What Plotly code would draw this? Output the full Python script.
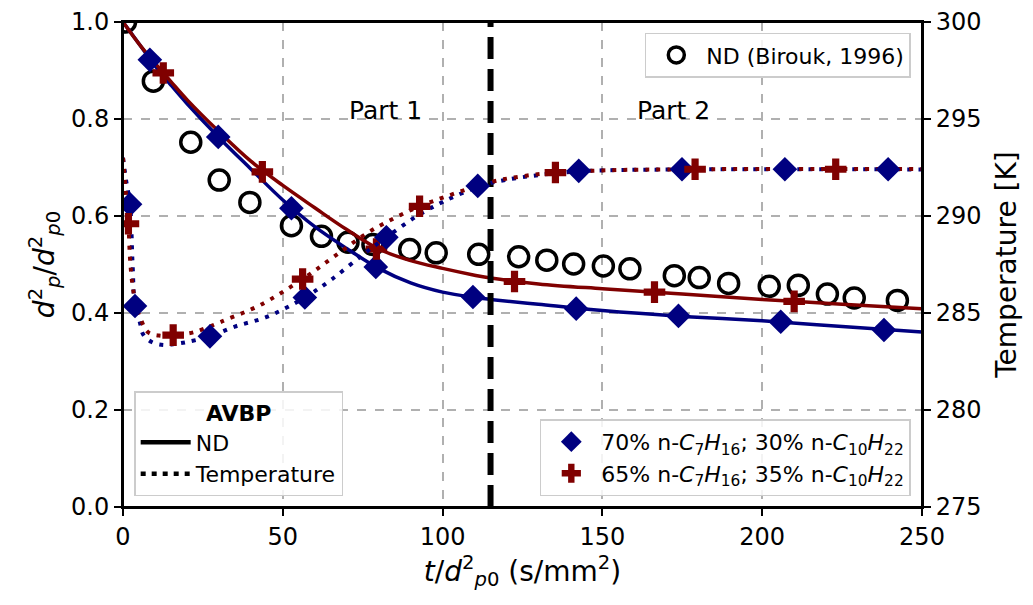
import plotly.graph_objects as go

# ---------------- data ----------------
# Experimental (Birouk, 1996)
birouk_t = [0.8, 9.5, 21.2, 30.1, 39.7, 52.7, 62.1, 70.4, 78.2, 89.7, 98.0, 111.3, 123.8,
            132.6, 141.0, 150.3, 158.6, 172.5, 180.3, 189.5, 202.2, 211.3, 220.4, 228.8, 242.3]
birouk_nd = [1.0, 0.878, 0.752, 0.674, 0.628, 0.580, 0.558, 0.546, 0.541, 0.531, 0.524, 0.521, 0.516,
             0.509, 0.501, 0.497, 0.491, 0.477, 0.473, 0.461, 0.455, 0.457, 0.439, 0.431, 0.426]

# AVBP 70/30 mixture - ND curve
blue_nd_t = [0, 5, 10, 15, 20, 30, 40, 50, 60, 70, 80, 90, 100, 110, 115, 130, 150, 175, 200, 225, 250]
blue_nd = [1.000, 0.955, 0.910, 0.870, 0.832, 0.762, 0.697, 0.633, 0.578, 0.533, 0.492, 0.462, 0.443,
           0.432, 0.428, 0.418, 0.405, 0.393, 0.384, 0.372, 0.361]
blue_nd_mk_t = [8.4, 29.8, 52.7, 79.1, 109.5, 141.8, 173.8, 205.8, 238.1]
blue_nd_mk = [0.922, 0.763, 0.616, 0.495, 0.433, 0.409, 0.394, 0.382, 0.365]

# AVBP 65/35 mixture - ND curve
red_nd_t = [0, 5, 10, 15, 20, 30, 40, 50, 60, 70, 80, 90, 100, 110, 115, 130, 150, 175, 200, 225, 250]
red_nd = [1.000, 0.955, 0.915, 0.877, 0.840, 0.774, 0.713, 0.663, 0.617, 0.572, 0.532, 0.508, 0.492,
          0.478, 0.472, 0.460, 0.450, 0.439, 0.428, 0.418, 0.409]
red_nd_mk_t = [12.6, 43.6, 79.3, 122.5, 166.3, 210.0]
red_nd_mk = [0.895, 0.691, 0.532, 0.465, 0.443, 0.424]

# AVBP 70/30 mixture - temperature [K]
blue_T_t = [0, 1.0, 2.2, 3.0, 3.75, 5.3, 6.3, 9.0, 12.6, 16, 19.9, 27.2, 35, 45, 56.9, 65, 75, 82.4,
            92, 101, 111, 115, 125, 142.6, 175, 250]
blue_T = [293.0, 291.8, 290.6, 287.5, 285.4, 284.5, 283.9, 283.5, 283.35, 283.4, 283.5, 283.8, 284.3,
          284.8, 285.8, 286.7, 288.0, 288.9, 290.0, 290.8, 291.5, 291.7, 292.0, 292.3, 292.4, 292.4]
blue_T_mk_t = [2.2, 3.75, 27.2, 56.9, 82.4, 111.0, 142.6, 174.9, 207.1, 239.4]
blue_T_mk = [290.6, 285.36, 283.8, 285.8, 288.9, 291.55, 292.33, 292.41, 292.41, 292.41]

# AVBP 65/35 mixture - temperature [K]
red_T_t = [0, 1.0, 1.7, 2.2, 3.0, 4.0, 5.5, 7.9, 11.6, 15.7, 22, 29.3, 32.9, 42.8, 56.2, 66, 76.2,
           85, 92.8, 101, 115, 125, 135.3, 150, 179, 250]
red_T = [293.0, 291.0, 289.6, 287.8, 286.4, 285.5, 284.7, 284.0, 283.83, 283.86, 284.0, 284.45, 284.7,
         285.4, 286.75, 287.9, 289.1, 289.9, 290.5, 291.0, 291.75, 292.05, 292.24, 292.35, 292.41, 292.42]
red_T_mk_t = [1.7, 15.7, 56.2, 92.8, 135.3, 179.0, 223.0]
red_T_mk = [289.6, 283.86, 286.75, 290.5, 292.24, 292.41, 292.41]

split_t = 115  # Part 1 / Part 2 boundary
part_labels = ["Part 1", "Part 2"]
part_t = [82, 172.2]
part_y = [0.818, 0.818]

x_ticks = [0, 50, 100, 150, 200, 250]
y_ticks = [0.0, 0.2, 0.4, 0.6, 0.8, 1.0]
T_ticks = [275, 280, 285, 290, 295, 300]

BLUE = "#000080"
RED = "#800000"
FONT = "DejaVu Sans"
dot = "4px,7px"

mix1 = "70% n-<i>C</i><sub>7</sub><i>H</i><sub>16</sub>; 30% n-<i>C</i><sub>10</sub><i>H</i><sub>22</sub>"
mix2 = "65% n-<i>C</i><sub>7</sub><i>H</i><sub>16</sub>; 35% n-<i>C</i><sub>10</sub><i>H</i><sub>22</sub>"

fig = go.Figure()

# Birouk data
fig.add_trace(go.Scatter(x=birouk_t, y=birouk_nd, mode="markers", name="ND (Birouk, 1996)",
                         marker=dict(symbol="circle-open", size=20, color="black", line=dict(width=3.5, color="black")),
                         legend="legend"))

# ND lines
fig.add_trace(go.Scatter(x=blue_nd_t, y=blue_nd, mode="lines", line=dict(color=BLUE, width=3.5, shape="spline"),
                         showlegend=False))
fig.add_trace(go.Scatter(x=red_nd_t, y=red_nd, mode="lines", line=dict(color=RED, width=3.5, shape="spline"),
                         showlegend=False))
fig.add_trace(go.Scatter(x=blue_nd_mk_t, y=blue_nd_mk, mode="markers",
                         marker=dict(symbol="diamond", size=19, color=BLUE), name=mix1, legend="legend3"))
fig.add_trace(go.Scatter(x=red_nd_mk_t, y=red_nd_mk, mode="markers",
                         marker=dict(symbol="cross", size=18, color=RED), name=mix2, legend="legend3"))

# Temperature lines (right axis)
fig.add_trace(go.Scatter(x=blue_T_t, y=blue_T, mode="lines", yaxis="y2",
                         line=dict(color=BLUE, width=4, dash=dot, shape="spline"), showlegend=False))
fig.add_trace(go.Scatter(x=red_T_t, y=red_T, mode="lines", yaxis="y2",
                         line=dict(color=RED, width=4, dash=dot, shape="spline"), showlegend=False))
fig.add_trace(go.Scatter(x=blue_T_mk_t, y=blue_T_mk, mode="markers", yaxis="y2",
                         marker=dict(symbol="diamond", size=19, color=BLUE), showlegend=False))
fig.add_trace(go.Scatter(x=red_T_mk_t, y=red_T_mk, mode="markers", yaxis="y2",
                         marker=dict(symbol="cross", size=18, color=RED), showlegend=False))

# Part separator
fig.add_trace(go.Scatter(x=[split_t, split_t], y=[y_ticks[0], y_ticks[-1]], mode="lines",
                         line=dict(color="black", width=6, dash="22px,10px"), showlegend=False))

# AVBP style legend entries
fig.add_trace(go.Scatter(x=[None], y=[None], mode="lines", name="ND",
                         line=dict(color="black", width=4.5), legend="legend2"))
fig.add_trace(go.Scatter(x=[None], y=[None], mode="lines", name="Temperature",
                         line=dict(color="black", width=4.5, dash="5px,6px"), legend="legend2"))

for lab, xt, yt in zip(part_labels, part_t, part_y):
    fig.add_annotation(x=xt, y=yt, text=lab, showarrow=False, font=dict(size=25, color="black", family=FONT))

# frame around the axes
fig.add_shape(type="rect", xref="paper", yref="paper", x0=0, x1=1, y0=0, y1=1,
              line=dict(color="black", width=2), layer="above")

axis_common = dict(showline=True, linecolor="black", linewidth=2, ticks="outside", ticklen=7, tickwidth=2,
                   tickcolor="black", tickfont=dict(size=24, color="black", family=FONT), zeroline=False,
                   automargin=False, ticklabeloverflow="allow")

legend_common = dict(bgcolor="rgba(255,255,255,0.85)", bordercolor="#cccccc", borderwidth=1.5,
                     font=dict(size=22, color="black", family=FONT), itemwidth=50)

fig.update_layout(
    width=1017, height=589,
    margin=dict(l=115, r=103, t=14, b=90, autoexpand=False),
    plot_bgcolor="white", paper_bgcolor="white",
    font=dict(family=FONT, color="black"),
    xaxis=dict(range=[x_ticks[0], x_ticks[-1]], tickvals=x_ticks, mirror=True,
               showgrid=True, gridcolor="#b0b0b0", griddash="dash", gridwidth=1.5,
               title=dict(text="<i>t</i>/<i>d</i><sup>2</sup><sub><i>p</i>0</sub> (s/mm<sup>2</sup>)",
                          font=dict(size=28, family=FONT), standoff=6),
               **axis_common),
    yaxis=dict(range=[y_ticks[0], y_ticks[-1]], tickvals=y_ticks, tickformat=".1f",
               showgrid=True, gridcolor="#b0b0b0", griddash="dash", gridwidth=1.5,
               title=dict(text="<i>d</i><sup>2</sup><sub><i>p</i></sub>/<i>d</i><sup>2</sup><sub><i>p</i>0</sub>",
                          font=dict(size=28, family=FONT), standoff=8),
               **axis_common),
    yaxis2=dict(range=[T_ticks[0], T_ticks[-1]], tickvals=T_ticks, overlaying="y", side="right",
                showgrid=False,
                title=dict(text="Temperature [K]", font=dict(size=28, family=FONT), standoff=16),
                **axis_common),
    legend=dict(x=0.986, y=0.978, xanchor="right", yanchor="top", **legend_common),
    legend2=dict(x=0.014, y=0.022, xanchor="left", yanchor="bottom",
                 title=dict(text="<b>AVBP</b>", side="top center", font=dict(size=22, family=FONT)),
                 **legend_common),
    legend3=dict(x=0.986, y=0.022, xanchor="right", yanchor="bottom", **legend_common),
)

fig.write_html("out.html")
